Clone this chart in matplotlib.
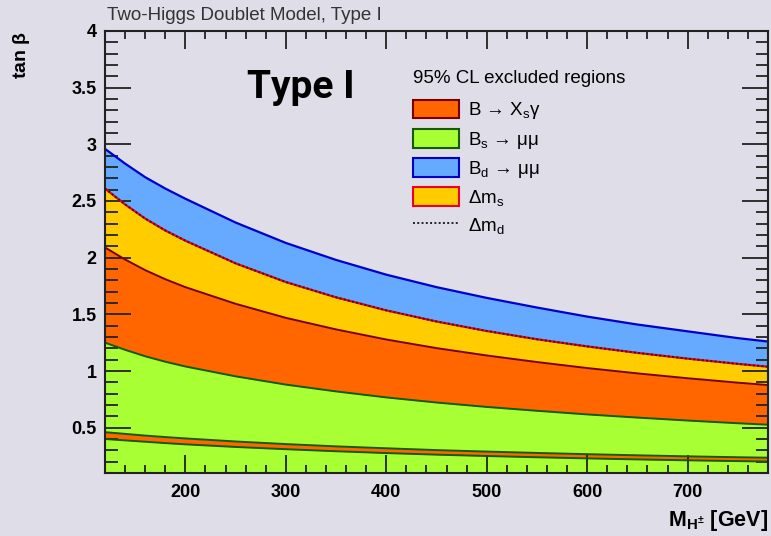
import matplotlib
matplotlib.use("Agg")
import matplotlib.pyplot as plt
from matplotlib.patches import Patch
from matplotlib.lines import Line2D
from matplotlib.ticker import MultipleLocator, FormatStrFormatter

plt.rcParams['font.family'] = ['Liberation Sans', 'DejaVu Sans']
plt.rcParams['mathtext.fontset'] = 'custom'
plt.rcParams['mathtext.rm'] = 'Liberation Sans'
plt.rcParams['mathtext.it'] = 'Liberation Sans:italic'
plt.rcParams['mathtext.bf'] = 'Liberation Sans:bold'
plt.rcParams['mathtext.default'] = 'regular'

# charged Higgs mass [GeV]
mh = [120, 140, 160, 180, 200, 250, 300, 350, 400, 450, 500, 550, 600, 650, 700, 750, 780]
# upper edges of the excluded regions (tan beta)
bd_mumu = [2.96, 2.83, 2.71, 2.61, 2.52, 2.31, 2.13, 1.98, 1.85, 1.74, 1.645, 1.56, 1.48, 1.41, 1.35, 1.29, 1.26]
dms = [2.61, 2.47, 2.345, 2.24, 2.15, 1.95, 1.785, 1.65, 1.535, 1.437, 1.353, 1.28, 1.217, 1.16, 1.109, 1.063, 1.038]
dmd = dms
bxsg = [2.09, 1.984, 1.89, 1.81, 1.74, 1.593, 1.469, 1.367, 1.278, 1.202, 1.137, 1.079, 1.026, 0.979, 0.936, 0.897, 0.876]
bs_mumu = [1.25, 1.187, 1.13, 1.082, 1.04, 0.953, 0.88, 0.82, 0.767, 0.722, 0.683, 0.649, 0.617, 0.589, 0.563, 0.539, 0.526]
# thin B -> Xs gamma band at low tan beta
band_hi = [0.46, 0.445, 0.43, 0.417, 0.405, 0.378, 0.355, 0.335, 0.318, 0.302, 0.289, 0.277, 0.266, 0.256, 0.247, 0.239, 0.235]
band_lo = [0.40, 0.388, 0.376, 0.364, 0.353, 0.33, 0.31, 0.292, 0.276, 0.262, 0.25, 0.239, 0.229, 0.22, 0.212, 0.205, 0.201]

bg = '#dedde8'
c_or, c_gr, c_bl, c_ye = '#ff6600', '#a8ff33', '#66aaff', '#ffcc00'
e_or, e_gr, e_bl, e_ye = '#7a0000', '#145a00', '#0000cc', '#ee0022'

fig = plt.figure(figsize=(7.71, 5.36), dpi=100, facecolor=bg)
ax = fig.add_axes([105/771, 63/536, 663/771, 442/536], facecolor=bg)
ymin = 0.1

ax.fill_between(mh, ymin, bd_mumu, color=c_bl, lw=0)
ax.fill_between(mh, ymin, dms, color=c_ye, lw=0)
ax.fill_between(mh, ymin, bxsg, color=c_or, lw=0)
ax.fill_between(mh, ymin, bs_mumu, color=c_gr, lw=0)
ax.fill_between(mh, band_lo, band_hi, color=c_or, lw=0)

ax.plot(mh, bd_mumu, color=e_bl, lw=1.6)
ax.plot(mh, dms, color=e_ye, lw=1.6)
ax.plot(mh, dmd, color='#222222', lw=1.4, ls=(0, (1, 1.2)))
ax.plot(mh, bxsg, color=e_or, lw=1.4)
ax.plot(mh, bs_mumu, color=e_gr, lw=1.4)
ax.plot(mh, band_hi, color=e_gr, lw=1.4)
ax.plot(mh, band_lo, color=e_gr, lw=1.4)

ax.set_xlim(120, 780)
ax.set_ylim(ymin, 4)
ax.xaxis.set_major_locator(MultipleLocator(100))
ax.xaxis.set_minor_locator(MultipleLocator(20))
ax.yaxis.set_major_locator(MultipleLocator(0.5))
ax.yaxis.set_minor_locator(MultipleLocator(0.1))
ax.yaxis.set_major_formatter(FormatStrFormatter('%g'))
ax.tick_params(which='both', direction='in', top=True, right=True, color='#222222', width=1.3)
ax.tick_params(which='major', axis='x', length=13, pad=8)
ax.tick_params(which='minor', axis='x', length=6)
ax.tick_params(which='major', axis='y', length=19, pad=6)
ax.tick_params(which='minor', axis='y', length=9)
for lab in ax.get_xticklabels() + ax.get_yticklabels():
    lab.set_fontsize(13)
    lab.set_fontweight('bold')
for s in ax.spines.values():
    s.set_linewidth(1.5)
    s.set_color('#222222')
    s.set_zorder(5)

ax.set_xlabel(r'$\mathbf{M}_{\mathbf{H}^{\pm}}$ [GeV]', fontsize=15.5, fontweight='bold', loc='right')
ax.xaxis.set_label_coords(1.0, -0.08)
ax.set_ylabel(r'tan $\mathbf{\beta}$', fontsize=14, fontweight='bold', loc='top')
ax.yaxis.set_label_coords(-0.11, 1.0)

fig.text(107/771, 1 - 15/536, 'Two-Higgs Doublet Model, Type I', fontsize=13.5, color='#333333', va='center')
ax.text(0.214, 0.848, 'Type I', transform=ax.transAxes, fontsize=28, fontweight='bold',
        family='Roboto', va='baseline')

handles = [Patch(facecolor=c_or, edgecolor=e_or, lw=1.5),
           Patch(facecolor=c_gr, edgecolor=e_gr, lw=1.5),
           Patch(facecolor=c_bl, edgecolor=e_bl, lw=1.5),
           Patch(facecolor=c_ye, edgecolor=e_ye, lw=1.5),
           Line2D([], [], color='#222222', lw=1.4, ls=(0, (1, 1.2)))]
labels = ['B → X$_s$γ', 'B$_s$ → μμ', 'B$_d$ → μμ', 'Δm$_s$', 'Δm$_d$']
leg = fig.legend(handles, labels, loc='upper left', bbox_to_anchor=(413/771, 1 - 70/536),
                 frameon=False, fontsize=13.5, title='95% CL excluded regions', title_fontsize=13.5,
                 alignment='left', handlelength=2.45, handleheight=1.17, labelspacing=0.40,
                 handletextpad=0.5, borderpad=0, borderaxespad=0)
leg._legend_box.sep = 9

fig.savefig('out.png', dpi=100, facecolor=bg)
